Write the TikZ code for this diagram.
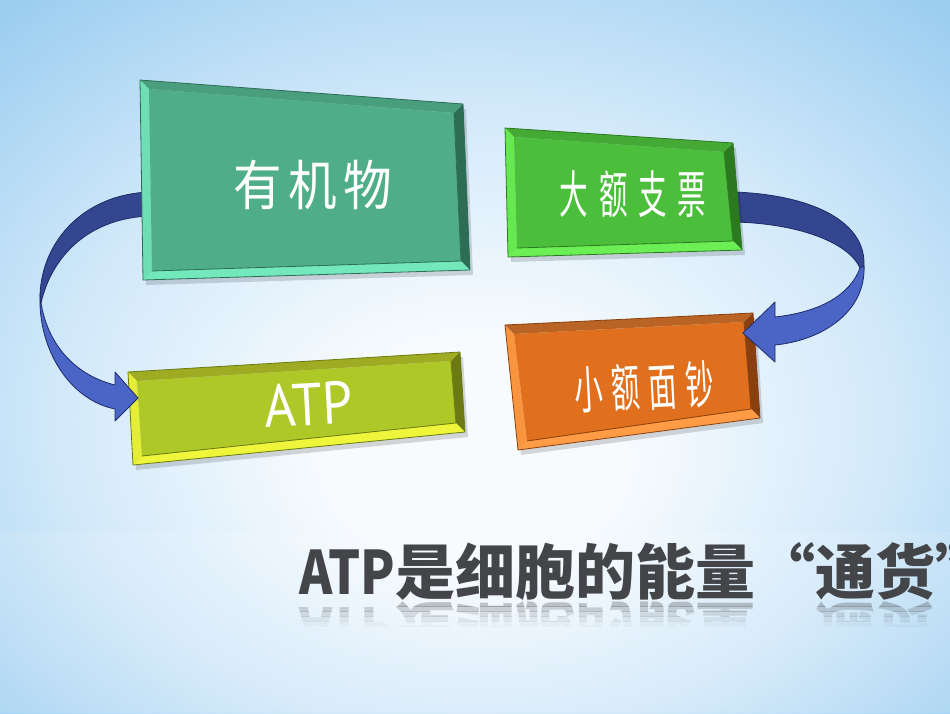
\documentclass[tikz,border=0pt]{standalone}
\usepackage{fontspec}
\usepackage{graphicx}
\newfontfamily\cjk{Noto Sans CJK SC}
\newfontfamily\ptsans{PT Sans}
\usetikzlibrary{calc}

\definecolor{bgwhite}{HTML}{F7FBFE}
\definecolor{bgmid}{HTML}{D2E9FA}
\definecolor{bgedge}{HTML}{9CCEF0}
\definecolor{orgface}{HTML}{4FAE89}
\definecolor{orglight}{HTML}{73E8BD}
\definecolor{orgdark}{HTML}{2D6D55}
\definecolor{bigface}{HTML}{4BBE3B}
\definecolor{biglight}{HTML}{6BEF55}
\definecolor{bigdark}{HTML}{2B7A20}
\definecolor{smallface}{HTML}{E0701E}
\definecolor{smalllight}{HTML}{FF9C45}
\definecolor{smalldark}{HTML}{8A3F0E}
\definecolor{atpface}{HTML}{AEC828}
\definecolor{atplight}{HTML}{EEF53A}
\definecolor{atpdark}{HTML}{6B7A12}
\definecolor{arrdark}{HTML}{34468F}
\definecolor{arrlight}{HTML}{4A65C6}
\definecolor{arrline}{HTML}{1E2B66}
\definecolor{titlegray}{HTML}{444548}

\pgfdeclareradialshading{bgglow}{\pgfpoint{0bp}{-8bp}}{color(0bp)=(bgwhite); color(8bp)=(bgwhite); color(22bp)=(bgmid); color(36bp)=(bgedge); color(50bp)=(bgedge)}

% bevelled box: name, nw, ne, se, sw, colour prefix
\newcommand{\bevelbox}[6]{%
  \coordinate (#1-nw) at #2; \coordinate (#1-ne) at #3;
  \coordinate (#1-se) at #4; \coordinate (#1-sw) at #5;
  \coordinate (#1-inw) at ($(#1-nw)+(9,9)$);
  \coordinate (#1-ine) at ($(#1-ne)+(-9,9)$);
  \coordinate (#1-ise) at ($(#1-se)+(-9,-9)$);
  \coordinate (#1-isw) at ($(#1-sw)+(9,-9)$);
  \fill[black,opacity=.15] ($(#1-nw)+(3,5)$) -- ($(#1-ne)+(3,5)$) -- ($(#1-se)+(3,5)$) -- ($(#1-sw)+(3,5)$) -- cycle;
  \fill[#6dark!60!#6light] (#1-nw) -- (#1-ne) -- (#1-ine) -- (#1-inw) -- cycle;
  \fill[#6dark] (#1-ne) -- (#1-se) -- (#1-ise) -- (#1-ine) -- cycle;
  \fill[#6light] (#1-se) -- (#1-sw) -- (#1-isw) -- (#1-ise) -- cycle;
  \fill[#6light!85!#6face] (#1-sw) -- (#1-nw) -- (#1-inw) -- (#1-isw) -- cycle;
  \fill[#6face] (#1-inw) -- (#1-ine) -- (#1-ise) -- (#1-isw) -- cycle;
  \draw[#6dark,line width=.8] (#1-isw) -- (#1-ise) -- (#1-ine);
  \draw[#6dark,line width=.8] (#1-nw) -- (#1-ne) -- (#1-se) -- (#1-sw) -- cycle;
}

\newcommand{\headtext}{\scalebox{0.84}[1]{ATP}是细胞的能量\makebox[60pt][r]{“}通货\makebox[60pt][l]{”}}

\tikzset{
  boxtext/.style={text=white,inner sep=0pt},
  arrowback/.style={fill=arrdark,draw=arrline,line width=.8,line join=round},
  arrowfront/.style={fill=arrlight,draw=arrline,line width=.8,line join=round},
  headline/.style={font=\cjk\bfseries\fontsize{60}{66}\selectfont,text=titlegray,inner sep=0pt,anchor=south west},
}

\begin{document}
\begin{tikzpicture}[x=1pt,y=-1pt]
  \useasboundingbox (0,0) rectangle (950,713);
  \clip (0,0) rectangle (950,713);
  \shade[shading=bgglow] (0,0) rectangle (950,713);
  \fill[white,opacity=.12] (0,532) rectangle (950,713);

  % title and its reflection
  \foreach \k/\op in {0/.30,1/.22,2/.15,3/.09,4/.04} {
    \begin{scope}
      \clip (280,{601+5*\k}) rectangle (950,{606+5*\k});
      \node[headline,yscale=-1,opacity=\op] at (299,601) {\headtext};
    \end{scope}
  }
  \node[headline] (title) at (299,601) {\headtext};

  % lower boxes
  \bevelbox{atp}{(128,372)}{(460,352)}{(465,432)}{(133,465)}{atp}
  \bevelbox{small}{(505,325)}{(753,313)}{(760,418)}{(518,450)}{small}

  % curved arrows
  \fill[arrowback] (150,192) .. controls (85,194) and (42,240) .. (40,295)
    -- (41,303) .. controls (52,255) and (90,218) .. (150,216) -- cycle;
  \fill[arrowfront] (40,295) .. controls (38,350) and (70,400) .. (115,409)
    -- (115,421) -- (138,398) -- (115,372) -- (115,385)
    .. controls (75,375) and (48,345) .. (41,303) -- cycle;
  \fill[arrowback] (735,192) .. controls (810,195) and (863,220) .. (864,262)
    -- (864,270) -- (860,268) .. controls (850,245) and (805,224) .. (735,222) -- cycle;
  \fill[arrowfront] (864,266) .. controls (866,310) and (825,340) .. (775,345)
    -- (775,362) -- (743,333) -- (775,302) -- (775,317)
    .. controls (820,312) and (850,295) .. (860,268) -- cycle;

  % upper boxes
  \bevelbox{org}{(140,80)}{(463,104)}{(470,270)}{(143,280)}{org}
  \bevelbox{big}{(505,128)}{(733,143)}{(742,250)}{(508,257)}{big}

  \node[boxtext,font=\cjk\fontsize{54}{60}\selectfont,xscale=.9] (orgtext) at (313,185) {有\hspace{7pt}机\hspace{7pt}物};
  \node[boxtext,font=\cjk\fontsize{51}{56}\selectfont,xscale=.56] (bigtext) at (633,194) {大\hspace{19pt}额\hspace{19pt}支\hspace{19pt}票};
  \node[boxtext,font=\cjk\fontsize{51}{56}\selectfont,rotate=3,xscale=.56] (smalltext) at (644,387) {小\hspace{15pt}额\hspace{15pt}面\hspace{15pt}钞};
  \node[boxtext,font=\ptsans\fontsize{60}{66}\selectfont,rotate=3,xscale=.9] (atptext) at (308,404) {ATP};
\end{tikzpicture}
\end{document}
